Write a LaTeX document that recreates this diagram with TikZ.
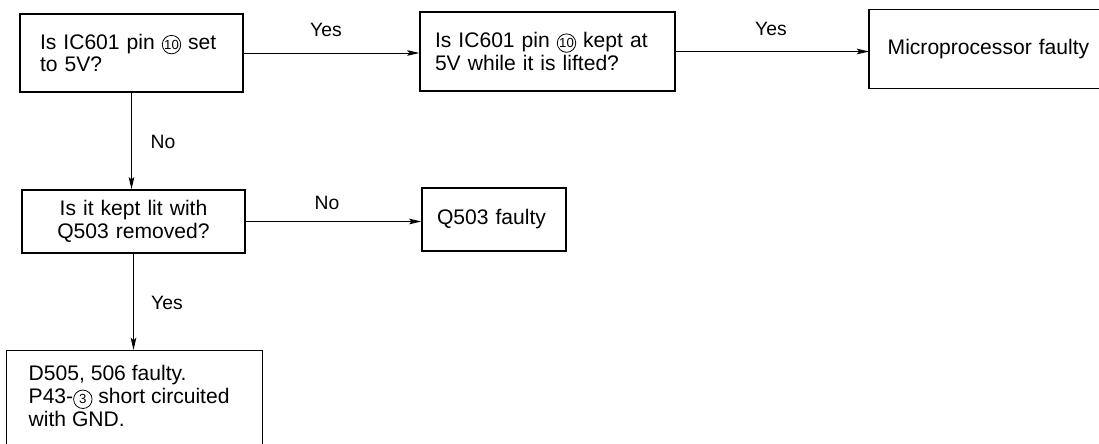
\documentclass[tikz,border=0pt]{standalone}
\usepackage{fontspec}
\setmainfont{Liberation Sans}
\usetikzlibrary{arrows.meta}

% circled pin number
\newcommand{\pinno}[1]{\tikz[baseline=(pn.base)]\node[circle,draw,line width=0.45pt,inner sep=0pt,minimum size=10.5pt,font=\fontsize{7.5}{7.5}\selectfont] (pn) {#1};}

\begin{document}
\begin{tikzpicture}[x=0.02cm,y=-0.02cm,
        box/.style={draw,line width=0.8pt,inner ysep=0pt,font=\fontsize{12}{13}\selectfont},
        arr/.style={line width=0.5pt,-{Stealth[length=7pt,width=3.2pt,inset=1.5pt]}},
        lab/.style={font=\fontsize{11}{13}\selectfont}]

                \useasboundingbox (0,0) rectangle (1099,443);

                % Top row: the two questions and the end result
                    \node[box,text width=3.66cm,inner xsep=0.4cm,align=left,minimum height=1.56cm]
                        (pin) at (131.5,53) {Is IC601 pin \pinno{10} set\\to 5V?};
                    \node[box,text width=4.5cm,inner xsep=0.3cm,align=left,minimum height=1.58cm]
                        (lifted) at (547.5,51.5) {Is IC601 pin \pinno{10} kept at\\5V while it is lifted?};
                    % runs off the right edge, so no right side
                    \node[box,draw=none,anchor=west,text width=4.8cm,inner xsep=0.36cm,align=left,minimum height=1.56cm]
                        (micro) at (869,49) {Microprocessor faulty};
                    \draw[line width=0.8pt] (micro.north east) -- (micro.north west) -- (micro.south west) -- (micro.south east);

                % Middle row
                    \node[box,text width=3.66cm,inner xsep=0.4cm,align=center,minimum height=1.26cm]
                        (lit) at (133.5,221.5) {Is it kept lit with\\Q503 removed?};
                    \node[box,text width=2.28cm,inner xsep=0.3cm,align=left,minimum height=1.26cm]
                        (qfault) at (494,219.5) {Q503 faulty};

                % Bottom box, cut off by the page
                    \node[box,anchor=north west,inner xsep=0.44cm,inner ysep=0.3cm]
                        (diode) at (6,350) {\parbox[t][2.2cm][t]{4.24cm}{D505, 506 faulty.\\P43-\pinno{3} short circuited\\with GND.}};

                % Connectors
                    \draw[arr] (pin.east) -- (pin.east -| lifted.west);
                    \draw[arr] (lifted.east) -- (lifted.east -| micro.west);
                    \draw[arr] (pin.south) -- (pin.south |- lit.north);
                    \draw[arr] (lit.east) -- (lit.east -| qfault.west);
                    \draw[arr] (lit.south) -- (lit.south |- diode.north);

                    \node[lab] (yes1) at (326,30) {Yes};
                    \node[lab] (yes2) at (771,29) {Yes};
                    \node[lab] (no1) at (163,142) {No};
                    \node[lab] (no2) at (327,203) {No};
                    \node[lab] (yes3) at (167,303) {Yes};

            \end{tikzpicture}
\end{document}
